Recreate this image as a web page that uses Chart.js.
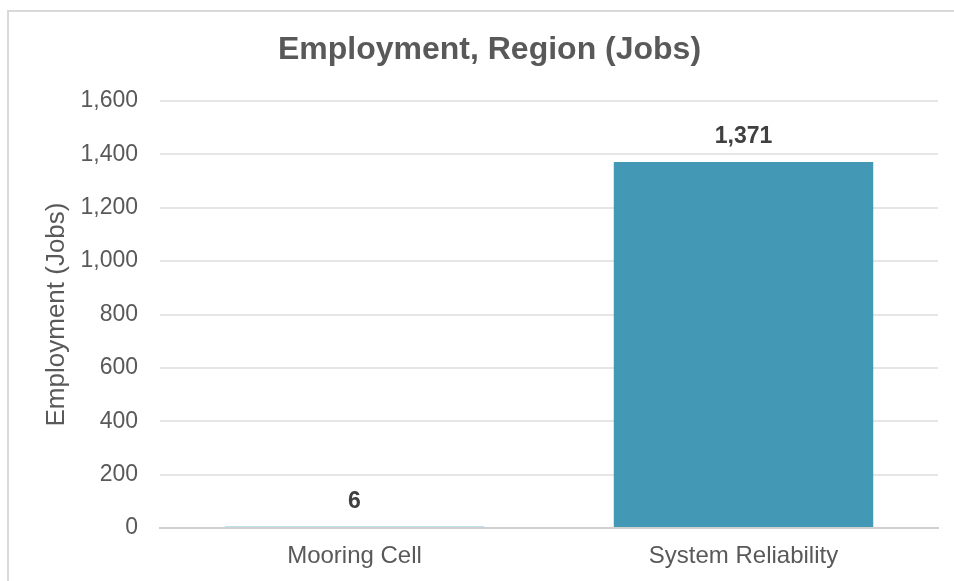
<!DOCTYPE html>
<html>
<head>
<meta charset="utf-8">
<script src="https://cdn.jsdelivr.net/npm/chart.js@4/dist/chart.umd.min.js"></script>
<style>
  html, body { margin: 0; padding: 0; background: #fff; overflow: hidden; }
  #wrap { position: relative; width: 954px; height: 581px; }
  #frame { position: absolute; left: 7px; top: 10px; width: 980px; height: 620px; border: 2px solid #d9d9d9; box-sizing: border-box; }
  #chart { position: absolute; left: 0; top: 0; }
</style>
</head>
<body>
<div id="wrap">
  <div id="frame"></div>
  <canvas id="chart" width="954" height="581"></canvas>
</div>
<script>
const categories = ["Mooring Cell", "System Reliability"];
const jobs = [6, 1371];
const barColors = ["#7cc3dc", "#4398b5"];
const yTicks = [0, 200, 400, 600, 800, 1000, 1200, 1400, 1600];

const fontFamily = "Arial, 'Liberation Sans', sans-serif";

// Draw value labels above each bar
const valueLabels = {
    id: "valueLabels",
    afterDatasetsDraw(chart) {
        const ctx = chart.ctx;
        const meta = chart.getDatasetMeta(0);
        ctx.save();
        ctx.font = "bold 23px " + fontFamily;
        ctx.fillStyle = "#404040";
        ctx.textAlign = "center";
        ctx.textBaseline = "middle";
        meta.data.forEach((bar, i) => {
            ctx.fillText(jobs[i].toLocaleString("en-US"), bar.x, bar.y - 25);
        });
        ctx.restore();
    }
};

new Chart(document.getElementById("chart"), {
    type: "bar",
    data: {
        labels: categories,
        datasets: [{
            label: "Employment (Jobs)",
            data: jobs,
            backgroundColor: barColors,
            categoryPercentage: 1,
            barPercentage: 0.667
        }]
    },
    options: {
        responsive: false,
        animation: false,
        layout: { padding: { top: 18, left: 41, right: 16, bottom: 0 } },
        plugins: {
            legend: { display: false },
            tooltip: { enabled: false },
            title: {
                display: true,
                text: "Employment, Region (Jobs)",
                color: "#595959",
                font: { family: fontFamily, size: 32, weight: "bold" },
                padding: { top: 13, bottom: 31.6 }
            }
        },
        scales: {
            x: {
                grid: { display: false, drawTicks: false },
                border: { color: "#d0d0d0", width: 2 },
                ticks: {
                    color: "#595959",
                    padding: 14,
                    font: { family: fontFamily, size: 24 }
                },
                afterFit(scale) { scale.height = 53; }
            },
            y: {
                min: 0,
                max: 1600,
                afterBuildTicks(scale) { scale.ticks = yTicks.map(v => ({ value: v })); },
                grid: { color: "#e6e6e6", lineWidth: 2, drawTicks: false },
                border: { display: false },
                ticks: {
                    color: "#595959",
                    padding: 22,
                    font: { family: fontFamily, size: 23 },
                    callback: v => v.toLocaleString("en-US")
                },
                title: {
                    display: true,
                    text: "Employment (Jobs)",
                    color: "#595959",
                    padding: 0,
                    font: { family: fontFamily, size: 26 }
                },
                afterFit(scale) { scale.width = 119; }
            }
        }
    },
    plugins: [valueLabels]
});
</script>
</body>
</html>
